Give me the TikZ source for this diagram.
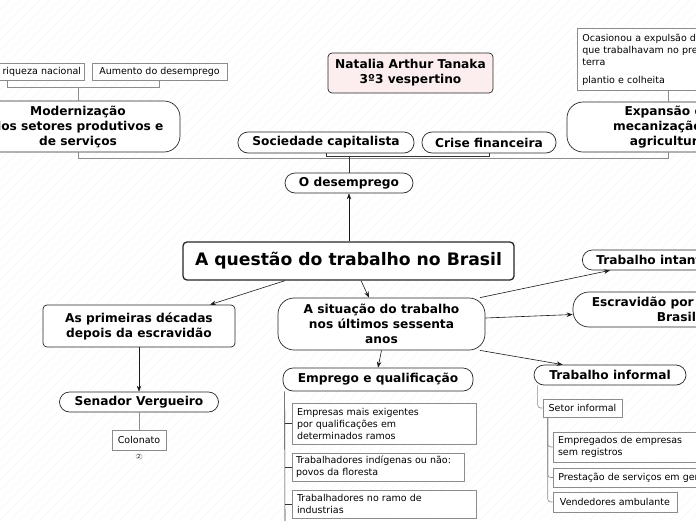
\documentclass[tikz,border=0pt]{standalone}
\usepackage{fontspec}
\setmainfont{DejaVu Sans}
\usetikzlibrary{arrows.meta,calc}
\definecolor{pinkfill}{HTML}{FCEEEE}
\tikzset{
 topic/.style={draw=black!85, line width=0.7pt, fill=white, font=\bfseries\fontsize{12.2}{15}\selectfont, align=center, inner sep=0pt},
 pill/.style={topic, rounded corners=10pt},
 bigr/.style={topic, rounded corners=16pt},
 boxr/.style={topic, rounded corners=4pt},
 leaf/.style={draw=black!45, line width=0.6pt, fill=white, font=\fontsize{9.5}{12}\selectfont, align=left, inner xsep=5pt, inner ysep=0pt, execute at begin node={\hyphenpenalty=10000\exhyphenpenalty=10000}},
 arr/.style={draw=black!90, line width=0.6pt, -{Stealth[length=6pt,width=4.5pt]}},
 gline/.style={draw=black!45, line width=0.6pt},
 dline/.style={draw=black!80, line width=0.6pt},
 hatch/.style={draw=black!4, line width=0.5pt},
}
\begin{document}
\begin{tikzpicture}[x=1pt,y=-1pt]
\useasboundingbox (0,0) rectangle (696,520);
\clip (0,0) rectangle (696,520);
\foreach \i in {-53,...,70} {\draw[hatch] (\i*10,520) -- (\i*10+520,0);}

% top branch
\node[leaf, text width=98pt, align=right, minimum height=17pt, inner xsep=3pt] (riq) at (32,71.5) {riqueza nacional};
\node[leaf, minimum width=135pt, minimum height=17pt] (aum) at (159.5,71.5) {Aumento do desemprego};
\node[bigr, minimum width=204pt, minimum height=51pt] (mod) at (78,126.5) {Modernização\\dos setores produtivos e\\de serviços};
\node[boxr, fill=pinkfill, minimum width=165pt, minimum height=40pt] (nat) at (410.5,73) {Natalia Arthur Tanaka\\3º3 vespertino};
\node[pill, minimum width=176pt, minimum height=21pt] (soc) at (326,142.5) {Sociedade capitalista};
\node[pill, minimum width=134pt, minimum height=21pt] (cri) at (489,142.5) {Crise financeira};
\node[bigr, minimum width=202pt, minimum height=50pt] (exp) at (668,127) {Expansão da\\mecanização da\\agricultura};
\node[leaf, anchor=north west, text width=250pt, minimum height=62pt, inner ysep=3pt] (oca) at (577,28) {Ocasionou a expulsão dos trabalhadores\\que trabalhavam no preparo da\\terra\\[6pt]plantio e colheita};
\node[pill, minimum width=128pt, minimum height=20pt] (des) at (349,183) {O desemprego};

\draw[gline] ($(riq.south east)+(-77,0)$) -- ++(0,7) -| (aum.south);
\draw[gline] (mod.north) -- (mod.north |- 0,87);
\draw[gline] (mod.south) -- (mod.south |- 0,158.5) -- (exp.south |- 0,158.5) -- (exp.south);
\draw[dline] (soc.south) -- (soc.south |- 0,156.5) -- (cri.south |- 0,156.5) -- (cri.south);
\draw[dline] (des.north) -- (des.north |- 0,156.5);
\draw[gline] (oca.south -| exp.north) -- (exp.north);

% main
\node[boxr, line width=1.3pt, font=\bfseries\fontsize{17.2}{20}\selectfont, minimum width=331pt, minimum height=38pt] (main) at (348.5,261) {A questão do trabalho no Brasil};
\draw[arr] (main.north -| des.south) -- (des.south);

% left
\node[boxr, minimum width=192pt, minimum height=42pt] (pri) at (139,326) {As primeiras décadas\\depois da escravidão};
\node[pill, minimum width=159pt, minimum height=20pt] (sen) at (139,402) {Senador Vergueiro};
\node[leaf, minimum width=54pt, minimum height=20pt, inner xsep=3pt] (col) at (139,440) {Colonato};
\node[draw=black!50, line width=0.4pt, rounded corners=1.5pt, inner sep=0.6pt, minimum width=6pt, font=\fontsize{5}{5}\selectfont, fill=white] (cnt) at (139,456.5) {2};
\draw[arr] ([xshift=-63.5pt]main.south) -- ([xshift=71pt]pri.north);
\draw[arr] (pri.south) -- (sen.north);
\draw[gline] (sen.south) -- (col.north);

% middle
\node[bigr, minimum width=207pt, minimum height=52pt] (sit) at (381.5,324) {A situação do trabalho\\nos últimos sessenta\\anos};
\node[pill, minimum width=190pt, minimum height=23pt] (emp) at (378,379.5) {Emprego e qualificação};
\node[leaf, text width=174pt, minimum height=41pt] (e1) at (384,423.5) {Empresas mais exigentes\\por qualificações em\\determinados ramos};
\node[leaf, text width=164pt, minimum height=28pt, inner xsep=4pt] (e2) at (378,467) {Trabalhadores indígenas ou não:\\povos da floresta};
\node[leaf, text width=174pt, minimum height=28pt] (e3) at (384,504) {Trabalhadores no ramo de\\industrias};
\coordinate (eend) at (285,530);
\draw[arr] ([xshift=12.5pt]main.south) -- ([xshift=-12.5pt]sit.north);
\draw[arr] (sit.south) -- (emp.north);
\draw[dline] ([xshift=2pt]emp.south west) -- (eend);
\draw[dline] (e1.west -| eend) -- (e1.west);
\draw[dline] (e2.west -| eend) -- (e2.west);
\draw[dline] (e3.west -| eend) -- (e3.west);

% right
\node[pill, anchor=west, minimum height=20pt, inner xsep=14pt] (tin) at (582,260) {Trabalho intantil};
\node[bigr, minimum width=207pt, minimum height=35pt] (esc) at (676.5,309.5) {Escravidão por dívida no\\Brasil};
\node[pill, minimum width=152pt, minimum height=20pt] (inf) at (610,375) {Trabalho informal};
\node[leaf, minimum width=79pt, minimum height=18pt] (set) at (582.5,408) {Setor informal};
\node[leaf, text width=133pt, minimum height=30pt] (r1) at (624.5,447) {Empregados de empresas\\sem registros};
\node[leaf, anchor=west, minimum height=19pt] (r2) at (553,477.5) {Prestação de serviços em geral};
\node[leaf, minimum width=124pt, minimum height=20pt] (r3) at (615,502) {Vendedores ambulante};
\draw[arr] (sit.15) -- ([xshift=28pt]tin.south west);
\draw[arr] ([yshift=6pt]sit.east) -- ([yshift=-5pt]esc.west);
\draw[arr] (sit.-15) -- ([xshift=29pt]inf.north west);
\draw[gline, rounded corners=3pt] ([xshift=4pt]inf.south west) |- (set.west);
\draw[gline, rounded corners=3pt] ([xshift=5pt]set.south west) |- (r1.west);
\draw[gline, rounded corners=3pt] ([xshift=5pt]set.south west) |- (r2.west);
\draw[gline, rounded corners=3pt] ([xshift=5pt]set.south west) |- (r3.west);
\end{tikzpicture}
\end{document}
